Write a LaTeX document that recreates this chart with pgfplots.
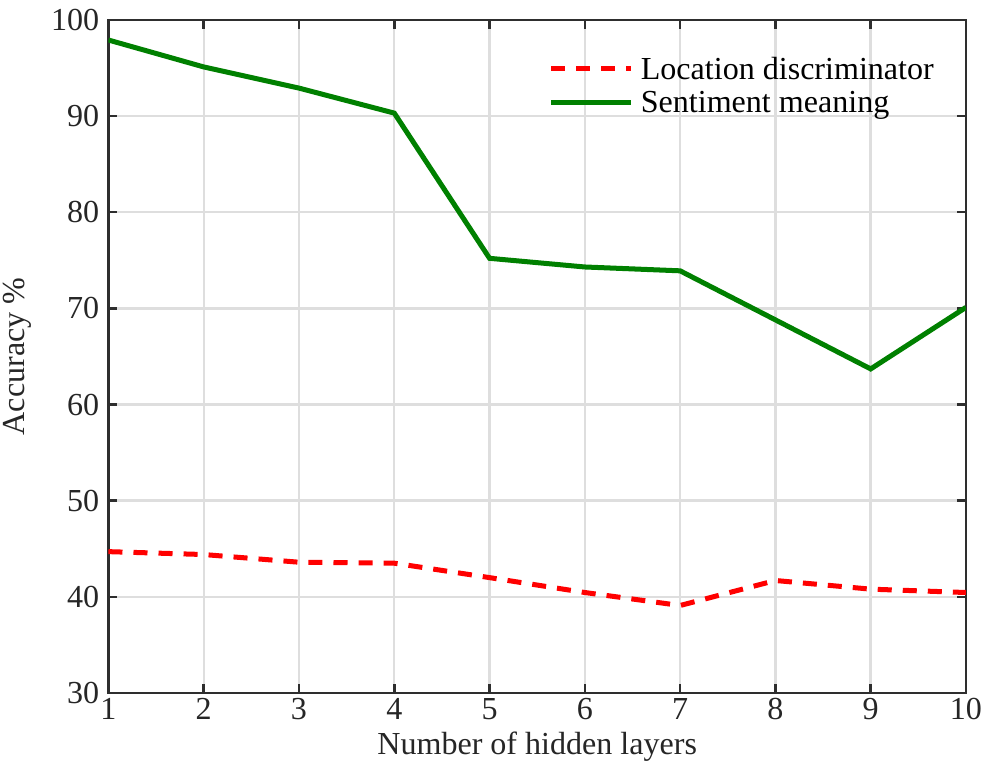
\documentclass[border=0pt]{standalone}
\usepackage{pgfplots}
\pgfplotsset{compat=1.18}
\usepackage{fontspec}
\setmainfont{Liberation Serif}
\begin{document}
\begin{tikzpicture}
\begin{axis}[
  scale only axis,
  width=856pt, height=672pt,
  xmin=1, xmax=10, ymin=30, ymax=100,
  xtick={1,...,10}, ytick={30,40,...,100},
  /pgf/number format/assume math mode=true,
  tick label style={font=\fontsize{32}{35}\selectfont, text=black!85},
  label style={font=\fontsize{32}{35}\selectfont, text=black!85},
  xticklabel style={inner sep=5pt},
  yticklabel style={inner sep=9pt},
  xlabel={Number of hidden layers},
  ylabel={Accuracy \%},
  xlabel style={yshift=-4pt},
  ylabel style={yshift=7pt},
  grid=major,
  major grid style={draw=black!13, line width=2.4pt},
  axis line style={draw=black!82, line width=2.6pt},
  tick style={draw=black!82, line width=2.6pt},
  tick align=inside,
  major tick length=9pt,
  xtick pos=both, ytick pos=both,
  legend style={draw=none, fill=none, at={(0.965,0.948)}, anchor=north east,
    font=\fontsize{32}{35}\selectfont, row sep=6pt, column sep=5pt, inner sep=0pt},
  legend cell align=left,
  legend image code/.code={\draw[#1] (0pt,0pt) -- (80pt,0pt);},
]
\addplot[red, line width=5pt, dash pattern=on 14pt off 11pt] coordinates {
(1,44.7) (2,44.4) (3,43.6) (4,43.5) (5,42.0) (6,40.45) (7,39.1) (8,41.7) (9,40.8) (10,40.45)};
\addlegendentry{Location discriminator}
\addplot[color={rgb,255:red,0;green,128;blue,0}, line width=5pt] coordinates {
(1,97.9) (2,95.1) (3,92.9) (4,90.3) (5,75.2) (6,74.3) (7,73.9) (8,68.8) (9,63.7) (10,70.1)};
\addlegendentry{Sentiment meaning}
\end{axis}
\end{tikzpicture}
\end{document}
